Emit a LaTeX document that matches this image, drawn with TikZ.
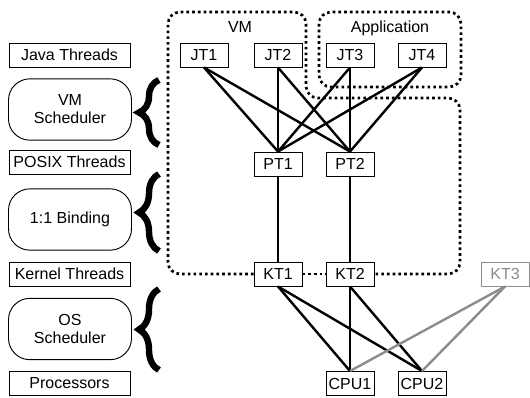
\documentclass[tikz,border=0pt]{standalone}
\usepackage{fontspec}
\setmainfont{Liberation Sans}
\usetikzlibrary{decorations.pathreplacing}
\definecolor{ktgray}{RGB}{140,140,140}
\tikzset{
  lbox/.style={draw, line width=0.7pt, fill=white, minimum width=90.75pt, minimum height=18pt, inner sep=0pt},
  rbox/.style={draw, line width=0.7pt, rounded corners=16pt, minimum width=92.25pt, minimum height=46pt, align=center, inner sep=0pt},
  tbox/.style={draw, line width=0.7pt, fill=white, minimum width=36pt, minimum height=18pt, inner sep=0pt},
  link/.style={line width=1.8pt},
  region/.style={line width=2pt, dash pattern=on 2pt off 2.3pt, rounded corners=9pt},
  curly/.style={line width=4.8pt, decorate, decoration={brace, amplitude=15pt}}
}
\begin{document}
\begin{tikzpicture}[x=0.75pt, y=-0.75pt, font=\fontsize{12pt}{13.5pt}\selectfont]
\useasboundingbox (0,0) rectangle (530,397);
\node[lbox] (java) at (69.5,55) {Java Threads};
\node[rbox] (vmsched) at (70,109.5) {VM\\Scheduler};
\node[lbox] (posix) at (69.5,162) {POSIX Threads};
\node[rbox] (binding) at (70,219.5) {1:1 Binding};
\node[lbox] (kernel) at (69.5,274) {Kernel Threads};
\node[rbox] (ossched) at (70,329) {OS\\Scheduler};
\node[lbox] (procs) at (69.5,383.5) {Processors};
\draw[curly] (159,145) -- (159,80);
\draw[curly] (159,251) -- (159,174);
\draw[curly] (159,370) -- (159,289);
\node[tbox] (jt1) at (204,55) {JT1};
\node[tbox] (jt2) at (278,55) {JT2};
\node[tbox] (jt3) at (350,55) {JT3};
\node[tbox] (jt4) at (422,55) {JT4};
\node[tbox] (pt1) at (278,164) {PT1};
\node[tbox] (pt2) at (350,164) {PT2};
\node[tbox] (kt1) at (278,274) {KT1};
\node[tbox] (kt2) at (350,274) {KT2};
\node[tbox, draw=ktgray, text=ktgray] (kt3) at (505,274) {KT3};
\node[tbox] (cpu1) at (350,383.5) {CPU1};
\node[tbox] (cpu2) at (422,383.5) {CPU2};
\node[anchor=base] (vmlabel) at (240,32) {VM};
\node[anchor=base] (applabel) at (390,32) {Application};
\draw[region] (kt1.west) -- (168,274) -- (168,12) -- (306,12) -- (306,98) -- (460,98) -- (460,274) -- (kt2.east);
\draw[region] (kt1) -- (kt2);
\draw[region] (319,12) rectangle (461,87);
\foreach \j in {jt1,jt2,jt3,jt4} {
  \draw[link] (\j.south) -- (pt1.north);
  \draw[link] (\j.south) -- (pt2.north);
}
\draw[link] (pt1) -- (kt1);
\draw[link] (pt2) -- (kt2);
\foreach \k in {kt1,kt2} {
  \draw[link] (\k.south) -- (cpu1.north);
  \draw[link] (\k.south) -- (cpu2.north);
}
\draw[link, ktgray] (kt3.south) -- (cpu1.north);
\draw[link, ktgray] (kt3.south) -- (cpu2.north);
\end{tikzpicture}
\end{document}
